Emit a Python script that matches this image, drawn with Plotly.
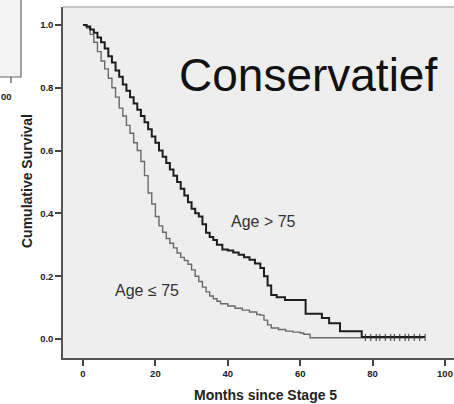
import plotly.graph_objects as go

# ---- data ----
t_old = [0, 1, 2, 3, 4, 5, 6, 7, 8, 9, 10, 11, 12, 13, 14, 15, 16, 17, 18, 19, 20,
         21, 22, 23, 24, 25, 26, 27, 28, 29, 30, 31, 32, 33, 34, 35, 36, 37, 38.5, 40,
         41.5, 43, 44.5, 46, 47.5, 49, 50, 51, 52, 53.5, 55.8, 61.5, 66, 68, 71, 77, 94.5]
s_old = [1.0, 0.995, 0.985, 0.975, 0.96, 0.945, 0.925, 0.90, 0.88, 0.855, 0.835, 0.81,
         0.79, 0.77, 0.75, 0.73, 0.71, 0.69, 0.668, 0.645, 0.625, 0.60, 0.58, 0.56, 0.54,
         0.52, 0.50, 0.478, 0.457, 0.435, 0.415, 0.40, 0.39, 0.365, 0.338, 0.325, 0.315,
         0.30, 0.285, 0.282, 0.275, 0.268, 0.26, 0.252, 0.24, 0.226, 0.20, 0.17, 0.14,
         0.133, 0.124, 0.08, 0.067, 0.05, 0.025, 0.006, 0.006]

t_young = [0, 1, 2, 3, 4, 5, 6, 7, 8, 9, 10, 11, 12, 13, 14, 15, 16, 17, 18, 19, 20,
           21, 22, 23, 24, 25, 26, 27, 28, 29, 30, 31, 32, 33, 34, 35, 36, 37, 38, 40,
           42, 44, 46, 48, 49, 50, 51, 52, 54, 56, 58, 60, 61, 62.7, 94]
s_young = [1.0, 0.99, 0.97, 0.945, 0.915, 0.885, 0.86, 0.83, 0.80, 0.77, 0.735, 0.71,
           0.68, 0.655, 0.625, 0.60, 0.565, 0.52, 0.465, 0.43, 0.39, 0.36, 0.34, 0.32,
           0.305, 0.29, 0.274, 0.26, 0.25, 0.238, 0.22, 0.20, 0.183, 0.165, 0.15, 0.137,
           0.128, 0.12, 0.112, 0.105, 0.098, 0.092, 0.086, 0.078, 0.076, 0.06, 0.045,
           0.035, 0.03, 0.025, 0.022, 0.019, 0.015, 0.004, 0.004]

censor_t = [78, 79.5, 81, 82, 83.5, 85, 86, 87.5, 89, 90, 91.5, 93, 94.5]
censor_s = [0.005] * len(censor_t)

x_ticks = [0, 20, 40, 60, 80, 100]
y_ticks = [0.0, 0.2, 0.4, 0.6, 0.8, 1.0]
y_ticklabels = ["0.0", "0.2", "0.4", "0.6", "0.8", "1.0"]

title_text = "Conservatief"
label_old = "Age > 75"
label_young = "Age ≤ 75"
x_title = "Months since Stage 5"
y_title = "Cumulative Survival"

# ---- figure ----
W, H = 462, 404          # slightly wider than the window: right frame edge is cut off
L, R, T, B = 63, 0, 7, 46
pw, ph = W - L - R, H - T - B

def px(xp):
    return (xp - L) / pw

def py(yp):
    return (H - B - yp) / ph

fig = go.Figure()
fig.add_trace(go.Scatter(x=t_young, y=s_young, mode="lines", line_shape="hv",
                         line=dict(color="#6a6a6a", width=1.4), hoverinfo="skip"))
fig.add_trace(go.Scatter(x=t_old, y=s_old, mode="lines", line_shape="hv",
                         line=dict(color="#1e1e1e", width=2.0), hoverinfo="skip"))
fig.add_trace(go.Scatter(x=censor_t, y=censor_s, mode="markers",
                         marker=dict(symbol="line-ns", size=5,
                                     line=dict(color="#333", width=1)),
                         hoverinfo="skip"))

font_bold = dict(family="Liberation Sans, Arial", size=9.5, color="#222")

fig.update_layout(
    width=W, height=H, showlegend=False,
    margin=dict(l=L, r=R, t=T, b=B, pad=0),
    paper_bgcolor="white", plot_bgcolor="#eeeeee",
    font=dict(family="Liberation Sans, Arial"),
    xaxis=dict(range=[-5.52, 104.7], tickvals=x_ticks,
               ticktext=["<b>%d</b>" % v for v in x_ticks],
               ticks="outside", ticklen=6, tickwidth=1.5, tickcolor="#444",
               showgrid=False, zeroline=False, showline=True, linecolor="#555",
               linewidth=1.5, tickfont=font_bold, mirror=False),
    yaxis=dict(range=[-0.0605, 1.057], tickvals=y_ticks,
               ticktext=["<b>%s</b>" % v for v in y_ticklabels],
               ticks="outside", ticklen=6, tickwidth=1.5, tickcolor="#444",
               showgrid=False, zeroline=False, showline=True, linecolor="#555",
               linewidth=1.5, tickfont=font_bold, mirror=False),
)

shapes = [
    # top border of plot frame
    dict(type="line", xref="paper", yref="paper", x0=0, x1=1, y0=1, y1=1,
         line=dict(color="#b5b5b5", width=1.5)),
    # partial neighbouring chart at top-left
    dict(type="rect", xref="paper", yref="paper", x0=px(-5), x1=px(21),
         y0=py(77), y1=py(-5), fillcolor="#f3f3f3", line=dict(color="#666", width=1.2)),
    dict(type="line", xref="paper", yref="paper", x0=px(11), x1=px(11),
         y0=py(77), y1=py(83), line=dict(color="#555", width=1.2)),
]
fig.update_layout(shapes=shapes)

annotations = [
    dict(text=title_text, x=62.2, y=0.84, xref="x", yref="y", showarrow=False,
         font=dict(family="Liberation Sans, Arial", size=46, color="#111")),
    dict(text=label_old, x=50.0, y=0.373, xref="x", yref="y", showarrow=False,
         font=dict(family="Liberation Sans, Arial", size=16, color="#333")),
    dict(text=label_young, x=17.7, y=0.156, xref="x", yref="y", showarrow=False,
         font=dict(family="Liberation Sans, Arial", size=16, color="#333")),
    dict(text="<b>%s</b>" % x_title, x=px(265), y=py(395), xref="paper", yref="paper",
         xanchor="center", yanchor="middle",
         showarrow=False, font=dict(family="Liberation Sans, Arial", size=14, color="#222")),
    dict(text="<b>%s</b>" % y_title, x=px(27), y=py(181), xref="paper", yref="paper",
         xanchor="center", yanchor="middle",
         showarrow=False, textangle=-90,
         font=dict(family="Liberation Sans, Arial", size=14, color="#222")),
    dict(text="<b>00</b>", x=px(14), y=py(96), xref="paper", yref="paper",
         xanchor="right", yanchor="middle", showarrow=False, font=font_bold),
]
fig.update_layout(annotations=annotations)

fig.write_html("out.html", config={"displayModeBar": False},
               post_script="document.body.style.margin='0';document.body.style.overflow='hidden';")
